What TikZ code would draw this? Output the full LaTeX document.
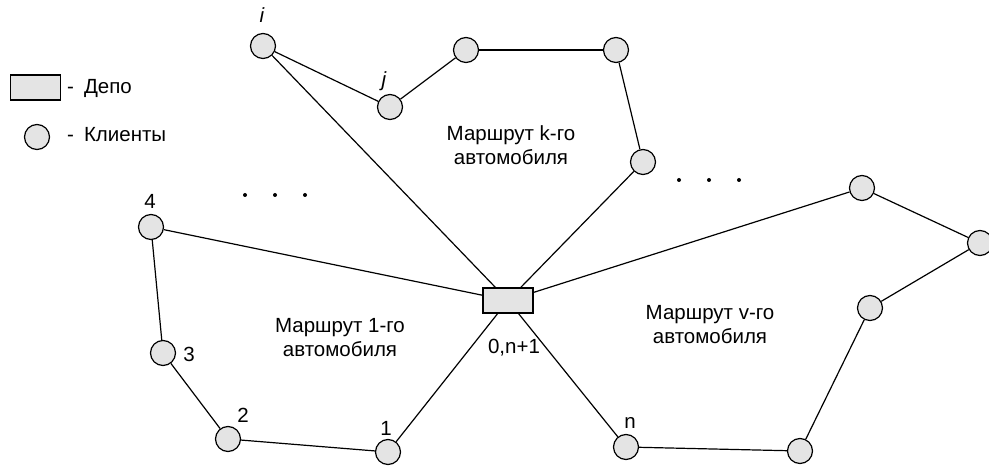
\documentclass[tikz,border=0pt]{standalone}
\usepackage{fontspec}
\setmainfont{Liberation Sans}
\definecolor{nodefill}{HTML}{E4E4E4}
\tikzset{
  client/.style={circle,draw=black,fill=nodefill,line width=1.2pt,minimum size=25pt,inner sep=0pt},
  depot/.style={rectangle,draw=black,fill=nodefill,line width=1.2pt,minimum width=50pt,minimum height=25pt,inner sep=0pt},
  edge/.style={draw=black,line width=1.2pt},
  lbl/.style={font=\fontsize{20.5}{24}\selectfont,inner sep=0pt},
  route/.style={font=\fontsize{20.5}{24}\selectfont,align=center,inner sep=0pt},
  dotp/.style={circle,fill=black,minimum size=4pt,inner sep=0pt}
}
\begin{document}
\begin{tikzpicture}[x=1pt,y=-1pt]
\useasboundingbox (0,0) rectangle (989,470);
% legend
\node[depot] (legdepot) at (35.5,87.5) {};
\node[lbl,anchor=west] (legdepottxt) at (67,88) {-\hspace{10pt}Депо};
\node[client] (legclient) at (37,137) {};
\node[lbl,anchor=west] (legclienttxt) at (67,135) {-\hspace{10pt}Клиенты};
% depot
\node[depot] (d) at (508,300.5) {};
% route k
\node[client] (i) at (263,46) {};
\node[client] (j) at (390,107) {};
\node[client] (k1) at (466,50) {};
\node[client] (k2) at (616,50) {};
\node[client] (k3) at (643,162) {};
% route v
\node[client] (v1) at (862,188) {};
\node[client] (v2) at (980,243) {};
\node[client] (v3) at (870,308) {};
\node[client] (v4) at (800,451) {};
\node[client] (n) at (626,447) {};
% route 1
\node[client] (c1) at (388,452) {};
\node[client] (c2) at (228,439) {};
\node[client] (c3) at (163,353) {};
\node[client] (c4) at (151,227) {};
% edges
\draw[edge] (d) -- (i);
\draw[edge] (i) -- (j);
\draw[edge] (j) -- (k1);
\draw[edge] (k1) -- (k2);
\draw[edge] (k2) -- (k3);
\draw[edge] (k3) -- (d);
\draw[edge] (d) -- (v1);
\draw[edge] (v1) -- (v2);
\draw[edge] (v2) -- (v3);
\draw[edge] (v3) -- (v4);
\draw[edge] (v4) -- (n);
\draw[edge] (n) -- (d);
\draw[edge] (d) -- (c1);
\draw[edge] (c1) -- (c2);
\draw[edge] (c2) -- (c3);
\draw[edge] (c3) -- (c4);
\draw[edge] (c4) -- (d);
% labels
\node[lbl] (li) at (262,15) {\itshape i};
\node[lbl] (lj) at (384,81) {\itshape j};
\node[lbl] (l4) at (150,201) {4};
\node[lbl] (l3) at (189,354) {3};
\node[lbl] (l2) at (243,415) {2};
\node[lbl] (l1) at (386,428) {1};
\node[lbl] (ln) at (630,423) {n};
\node[lbl] (ld) at (514,348) {0,n+1};
% route texts
\node[route] (rk) at (511,145) {Маршрут k-го\\автомобиля};
\node[route] (r1) at (340,338) {Маршрут 1-го\\автомобиля};
\node[route] (rv) at (710,325) {Маршрут v-го\\автомобиля};
% dots
\node[dotp] (dl1) at (245,195) {};
\node[dotp] (dl2) at (275,195) {};
\node[dotp] (dl3) at (305,195) {};
\node[dotp] (dr1) at (679,180) {};
\node[dotp] (dr2) at (709,180) {};
\node[dotp] (dr3) at (739,180) {};
\end{tikzpicture}
\end{document}
